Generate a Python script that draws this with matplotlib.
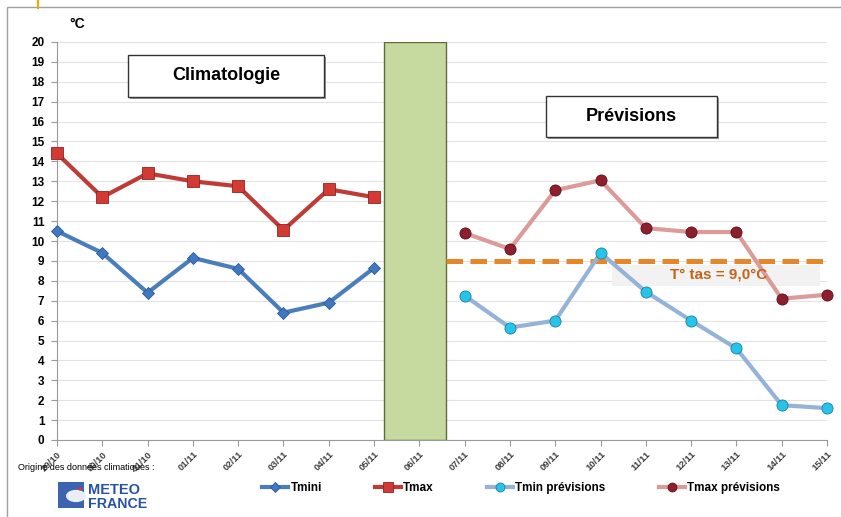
import matplotlib
matplotlib.use("Agg")
import matplotlib.pyplot as plt
from matplotlib.patches import Rectangle, Circle
from matplotlib.lines import Line2D

# dates on the x axis
dates = ['29/10', '30/10', '31/10', '01/11', '02/11', '03/11', '04/11', '05/11', '06/11',
         '07/11', '08/11', '09/11', '10/11', '11/11', '12/11', '13/11', '14/11', '15/11']

# climatology (29/10 -> 05/11)
tmini = [10.5, 9.4, 7.4, 9.15, 8.6, 6.4, 6.9, 8.65]
tmax = [14.4, 12.2, 13.4, 13.0, 12.75, 10.55, 12.6, 12.2]

# forecasts (07/11 -> 15/11)
tmin_prev = [7.25, 5.65, 6.0, 9.4, 7.45, 6.0, 4.6, 1.75, 1.6]
tmax_prev = [10.4, 9.6, 12.55, 13.05, 10.65, 10.45, 10.45, 7.1, 7.3]

seuil = 9.0
seuil_label = 'T° tas = 9,0°C'

W, H = 841, 517
fig = plt.figure(figsize=(W / 100, H / 100), dpi=100)
fig.patch.set_facecolor('white')

def px(x, y):
    # pixel coords (from top-left) -> figure fraction
    return x / W, 1 - y / H

ax = fig.add_axes([57 / W, 77 / H, 770 / W, 398 / H])
ax.set_xlim(0, len(dates) - 1)
ax.set_ylim(0, 20)
ax.set_yticks(range(0, 21))
ax.set_xticks(range(len(dates)))
ax.set_xticklabels(dates, rotation=45, ha='right', rotation_mode='anchor',
                   fontsize=6.8, fontweight='bold', color='#404040', family='Liberation Sans')
for lab in ax.get_yticklabels():
    lab.set_fontsize(8.5)
    lab.set_fontweight('bold')
    lab.set_family('Liberation Sans')
ax.tick_params(axis='both', length=4, color='#9a9a9a')
ax.tick_params(axis='x', pad=3)
ax.tick_params(axis='y', pad=5)
for s in ['top', 'right']:
    ax.spines[s].set_visible(False)
for s in ['left', 'bottom']:
    ax.spines[s].set_color('#9a9a9a')
ax.grid(axis='y', color='#e2e2e2', lw=0.8)
ax.set_axisbelow(True)

# green separation bar
ax.axvspan(7.22, 8.58, facecolor='#c6d99e', edgecolor='#5f6b3c', lw=1, zorder=2)

xc = list(range(len(tmini)))
xp = list(range(len(dates) - len(tmin_prev), len(dates)))

ax.plot(xc, tmini, color='#4a7ebb', lw=3, marker='D', ms=6,
        mfc='#3f77c0', mec='#2c5a96', mew=0.6, zorder=4, label='Tmini', clip_on=False)
ax.plot(xc, tmax, color='#be3b36', lw=3, marker='s', ms=8.5,
        mfc='#d33a34', mec='#8e2420', mew=0.6, zorder=4, label='Tmax', clip_on=False)
ax.plot(xp, tmin_prev, color='#95b3d7', lw=3, marker='o', ms=8,
        mfc='#27c4ea', mec='#1a7fa3', mew=0.6, zorder=4, label='Tmin prévisions', clip_on=False)
ax.plot(xp, tmax_prev, color='#dc9a98', lw=3, marker='o', ms=8,
        mfc='#8e1f2e', mec='#5a1018', mew=0.6, zorder=4, label='Tmax prévisions', clip_on=False)

# threshold
ax.hlines(seuil, 8.58, len(dates) - 1 + 0.05, colors='#e8862a', lw=3.6,
          linestyles=(0, (3.3, 1.5)), zorder=3, clip_on=False)
ax.add_patch(Rectangle((12.25, seuil - 1.25), 4.6, 1.05, facecolor='#f2f2f2',
                       edgecolor='none', zorder=1))
ax.text(14.6, seuil - 0.7, seuil_label, ha='center', va='center', fontsize=11,
        fontweight='bold', color='#c2651c', family='Liberation Sans', zorder=5)

# title boxes
def titled_box(x0, y0, x1, y1, txt):
    fx0, fy1 = px(x0, y0)
    fx1, fy0 = px(x1, y1)
    sh = Rectangle((fx0 + 2 / W, fy0 - 2 / H), fx1 - fx0, fy1 - fy0, transform=fig.transFigure,
                   facecolor='#9a9a9a', edgecolor='none', zorder=9)
    box = Rectangle((fx0, fy0), fx1 - fx0, fy1 - fy0, transform=fig.transFigure,
                    facecolor='white', edgecolor='#333333', lw=1, zorder=10)
    fig.patches.extend([sh, box])
    fig.text((fx0 + fx1) / 2, (fy0 + fy1) / 2, txt, ha='center', va='center',
             fontsize=13, fontweight='bold', family='Liberation Sans', zorder=11)

titled_box(128, 55, 324, 97, 'Climatologie')
titled_box(546, 96, 717, 137, 'Prévisions')

fig.text(*px(77, 24), '°C', ha='center', va='center', fontsize=10,
         fontweight='bold', family='Liberation Sans')

# legend
fig.legend(loc='center', bbox_to_anchor=(*px(521, 488),), ncol=4, frameon=False,
           prop=dict(family='Liberation Sans', weight='bold', size=8.5),
           handlelength=2.2, columnspacing=4.5, handletextpad=0.2, markerscale=0.8)

# data source + logo
fig.text(*px(18, 468), 'Origine des données climatiques :', ha='left', va='center',
         fontsize=6.5, family='Liberation Sans')
lx0, ly0 = px(58, 508)
logo = Rectangle((lx0, ly0), 26 / W, 26 / H, transform=fig.transFigure,
                 facecolor='#3b63b0', edgecolor='none')
fig.patches.append(logo)
fig.patches.append(Circle(px(76, 496), 10 / W, transform=fig.transFigure,
                          facecolor='#e9eef7', edgecolor='none'))
fig.patches.append(Circle(px(80, 489), 2.2 / W, transform=fig.transFigure,
                          facecolor='#d9303a', edgecolor='none'))
fig.text(*px(88, 494.5), 'METEO', ha='left', va='baseline', fontsize=10.5,
         fontweight='bold', color='#2752a6', family='Liberation Sans')
fig.text(*px(88, 508), 'FRANCE', ha='left', va='baseline', fontsize=10.2,
         fontweight='bold', color='#2752a6', family='Liberation Sans')

# outer frame and small orange mark
fig.patches.append(Rectangle(px(7, 530), 850 / W, 523 / H, transform=fig.transFigure,
                             facecolor='none', edgecolor='#a0a0a0', lw=1))
fig.lines.append(Line2D([38 / W, 38 / W], [1, 1 - 8 / H], transform=fig.transFigure,
                        color='#f0a800', lw=1.5))

fig.savefig('out.png', dpi=100)
